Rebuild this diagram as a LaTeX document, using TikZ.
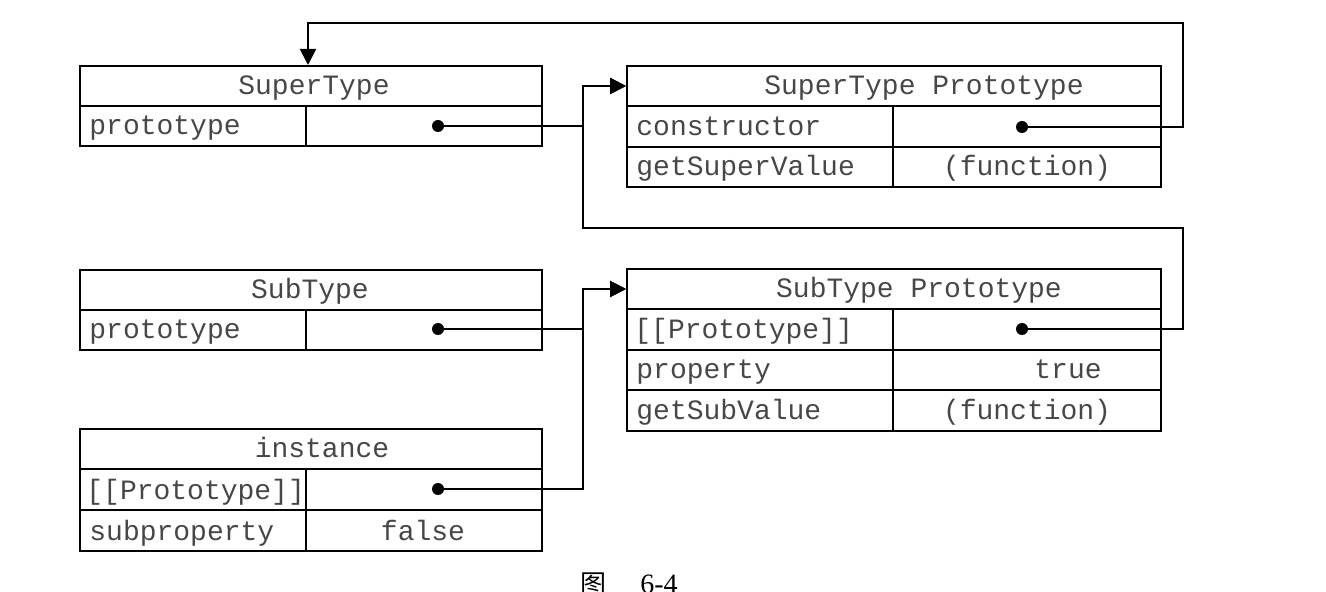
\documentclass[tikz,border=0pt]{standalone}
\usepackage{fontspec}
\setmonofont{Liberation Mono}
\newfontfamily\cjk{Noto Sans CJK SC}
\newfontfamily\capserif{Liberation Serif}
\usetikzlibrary{fit,arrows.meta}
\begin{document}
\begin{tikzpicture}[x=0.5pt,y=-0.5pt,
  cell/.style={draw,line width=1pt,inner sep=0pt},
  txt/.style={inner sep=0pt,text height=11pt,text depth=2pt,font=\ttfamily\fontsize{14}{16}\selectfont,text=black!72},
  lt/.style={txt,anchor=west},
  dot/.style={circle,fill=black,inner sep=0pt,minimum size=6pt},
  conn/.style={line width=1pt},
  arr/.style={conn,-{Triangle[length=8pt,width=8pt]}}]
\useasboundingbox (0,0) rectangle (1326,592);
% SuperType
\node[cell,fit={(80,66)(542,106)}] (st) {};
\node[cell,fit={(80,106)(306,146)}] (st1) {};
\node[cell,fit={(306,106)(542,146)}] (st2) {};
\node[txt] (stt) at (314,86) {SuperType};
\node[lt] (st1t) at (89,126) {prototype};
\node[dot] (d1) at (438,126) {};
% SuperType Prototype
\node[cell,fit={(627,66)(1161,106)}] (stp) {};
\node[cell,fit={(627,106)(893,147)}] (stp1) {};
\node[cell,fit={(893,106)(1161,147)}] (stp1v) {};
\node[cell,fit={(627,147)(893,187)}] (stp2) {};
\node[cell,fit={(893,147)(1161,187)}] (stp2v) {};
\node[txt] (stpt) at (924,86) {SuperType Prototype};
\node[lt] (stp1t) at (636,127) {constructor};
\node[lt] (stp2t) at (636,167) {getSuperValue};
\node[txt] (stp2vt) at (1027,167) {(function)};
\node[dot] (d2) at (1022,127) {};
% SubType
\node[cell,fit={(80,270)(542,310)}] (sb) {};
\node[cell,fit={(80,310)(306,350)}] (sb1) {};
\node[cell,fit={(306,310)(542,350)}] (sb2) {};
\node[txt] (sbt) at (310,290) {SubType};
\node[lt] (sb1t) at (89,330) {prototype};
\node[dot] (d3) at (438,329) {};
% SubType Prototype
\node[cell,fit={(627,269)(1161,309)}] (sbp) {};
\node[cell,fit={(627,309)(893,350)}] (sbp1) {};
\node[cell,fit={(893,309)(1161,350)}] (sbp1v) {};
\node[cell,fit={(627,350)(893,390)}] (sbp2) {};
\node[cell,fit={(893,350)(1161,390)}] (sbp2v) {};
\node[cell,fit={(627,390)(893,431)}] (sbp3) {};
\node[cell,fit={(893,390)(1161,431)}] (sbp3v) {};
\node[txt] (sbpt) at (919,289) {SubType Prototype};
\node[lt] (sbp1t) at (634,330) {[[Prototype]]};
\node[lt] (sbp2t) at (636,370) {property};
\node[txt] (sbp2vt) at (1068,370) {true};
\node[lt] (sbp3t) at (636,411) {getSubValue};
\node[txt] (sbp3vt) at (1027,411) {(function)};
\node[dot] (d4) at (1022,329) {};
% instance
\node[cell,fit={(80,429)(542,469)}] (in) {};
\node[cell,fit={(80,469)(306,510)}] (in1) {};
\node[cell,fit={(306,469)(542,510)}] (in1v) {};
\node[cell,fit={(80,510)(306,551)}] (in2) {};
\node[cell,fit={(306,510)(542,551)}] (in2v) {};
\node[txt] (intt) at (322,449) {instance};
\node[lt] (in1t) at (86,490) {[[Prototype]]};
\node[lt] (in2t) at (89,531) {subproperty};
\node[txt] (in2vt) at (423,531) {false};
\node[dot] (d5) at (438,489) {};
% bends
\coordinate (bus) at (583,0);
\coordinate (rtop) at (1183,23);
\coordinate (ltop) at (308,23);
\coordinate (rmid) at (1183,228);
\coordinate (lmid) at (583,228);
% connectors
\draw[arr] (d1.center) -- (d1.center -| bus) |- (stp.west);
\draw[arr] (d2.center) -| (rtop) -- (ltop) -- (ltop |- st.north);
\draw[arr] (d4.center) -| (rmid) -- (lmid) |- (stp.west);
\draw[arr] (d3.center) -- (d3.center -| bus) |- (sbp.west);
\draw[arr] (d5.center) -- (d5.center -| bus) |- (sbp.west);
% caption
\node[anchor=north west,inner sep=0pt] (cap) at (580,572) {{\cjk\fontsize{13}{15}\selectfont 图}\hspace{17pt}{\capserif\fontsize{14}{16}\selectfont 6-4}};
\end{tikzpicture}
\end{document}
